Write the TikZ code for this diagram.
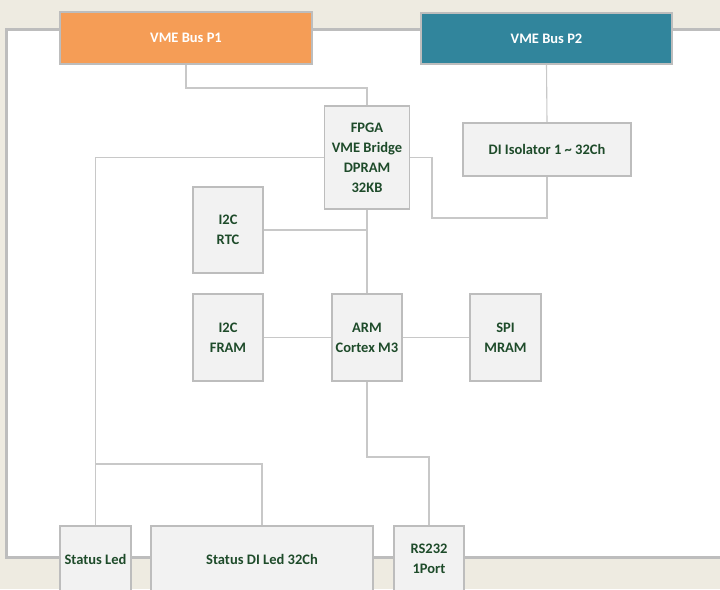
\documentclass[tikz,border=0pt]{standalone}
\usepackage{fontspec}
\setmainfont{Carlito}
\usepackage{tikz}

\definecolor{busorange}{HTML}{F59D56}
\definecolor{busteal}{HTML}{31859C}
\definecolor{boxgray}{HTML}{F2F2F2}
\definecolor{edgegray}{HTML}{BDBDBD}
\definecolor{linegray}{HTML}{C8C8C8}
\definecolor{textgreen}{HTML}{1E4B2A}
\definecolor{paper}{HTML}{EEEBE1}

\begin{document}
\begin{tikzpicture}[x=1pt,y=-1pt,
	blk/.style={draw=edgegray,line width=1.6pt,fill=boxgray,text=textgreen,
		font=\bfseries\fontsize{14.5}{20}\selectfont,align=center,inner sep=0pt},
	bus/.style={blk,text=white,fill=#1},
	wire/.style={draw=linegray,line width=1.1pt}]
		\fill[paper] (0,0) rectangle (720,589);
		\useasboundingbox (0,0) rectangle (720,589);
		\clip (0,0) rectangle (720,589);
		\draw[edgegray,line width=3pt,fill=white] (6,29) rectangle (740,557);
		%
		\node[bus=busorange,minimum width=252pt,minimum height=52pt] (P1) at (186,38) {VME Bus P1};
		\node[bus=busteal,minimum width=251pt,minimum height=51pt] (P2) at (546.5,38.5) {VME Bus P2};
		\node[blk,minimum width=85pt,minimum height=103pt] (F) at (367,157.5) {FPGA\\VME Bridge\\DPRAM\\32KB};
		\node[blk,minimum width=168pt,minimum height=53pt] (DI) at (547,149.5) {DI Isolator 1 \textasciitilde{} 32Ch};
		\node[blk,minimum width=70pt,minimum height=86pt] (RTC) at (228,230) {I2C\\RTC};
		\node[blk,minimum width=70pt,minimum height=87pt] (FRAM) at (228,337.5) {I2C\\FRAM};
		\node[blk,minimum width=70pt,minimum height=87pt] (ARM) at (367,337.5) {ARM\\Cortex M3};
		\node[blk,minimum width=71pt,minimum height=87pt] (MRAM) at (505.5,337.5) {SPI\\MRAM};
		\node[blk,minimum width=71pt,minimum height=66pt] (SL) at (95.5,559) {Status Led};
		\node[blk,minimum width=222pt,minimum height=66pt] (SD) at (262,559) {Status DI Led 32Ch};
		\node[blk,minimum width=70pt,minimum height=66pt] (RS) at (429,559) {RS232\\1Port};
		%
		\coordinate (c1) at (186,88);
		\coordinate (c2) at (432,218);
		\coordinate (c3) at (95.5,464);
		\coordinate (c4) at (429,457);
		%
		\draw[wire] (P1.south) -- (c1) -| (F.north);
		\draw[wire] (P2.south) -- (DI.north);
		\draw[wire] (DI.south) |- (c2) |- (F.east);
		\draw[wire] (F.west) -| (SL.north);
		\draw[wire] (c3) -| (SD.north);
		\draw[wire] (RTC.east) -- (RTC.east -| F.south);
		\draw[wire] (F.south) -- (ARM.north);
		\draw[wire] (FRAM.east) -- (ARM.west);
		\draw[wire] (ARM.east) -- (MRAM.west);
		\draw[wire] (ARM.south) |- (c4) -- (RS.north);
\end{tikzpicture}
\end{document}
